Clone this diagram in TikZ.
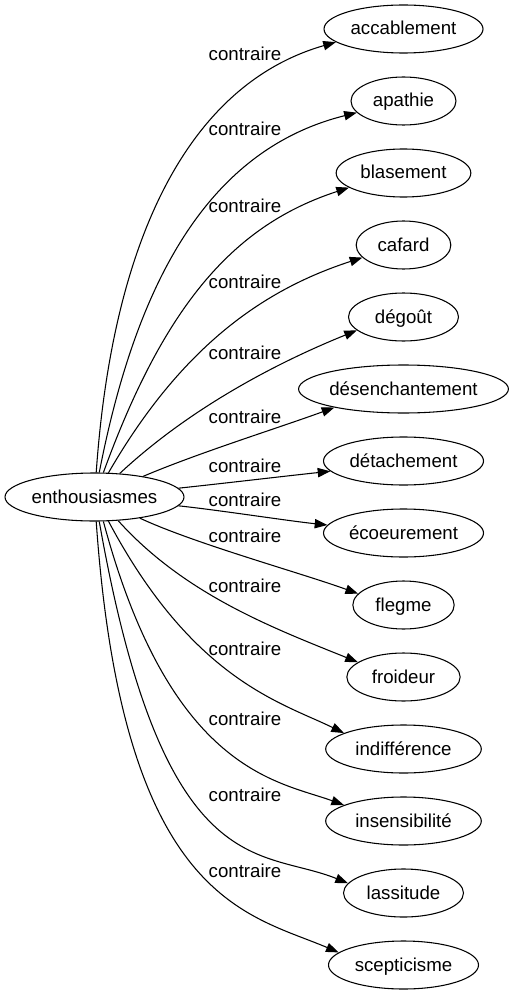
\documentclass[tikz,border=0pt]{standalone}
\usepackage{fontspec}
\setmainfont{Liberation Sans}
\usetikzlibrary{arrows.meta,shapes.geometric}
\begin{document}
\begin{tikzpicture}[x=0.75pt,y=0.75pt,
  every node/.style={font=\fontsize{14pt}{16pt}\selectfont},
  term/.style={ellipse,draw,line width=0.8pt,inner sep=0pt,minimum height=36pt,text height=11pt,text depth=2pt},
  lbl/.style={inner sep=0pt,anchor=base},
  rel/.style={line width=0.8pt,-{Triangle[length=9.5pt,width=7pt]}}]
\useasboundingbox (0,0) rectangle (513,-995);
\node[term,minimum width=134.25pt] (src) at (94.5,-497) {enthousiasmes};
\node[term,minimum width=119.25pt] (acc) at (403.5,-29) {accablement};
\node[term,minimum width=78.75pt] (apa) at (403.5,-101) {apathie};
\node[term,minimum width=101pt] (bla) at (403.5,-173) {blasement};
\node[term,minimum width=71pt] (caf) at (403.5,-245) {cafard};
\node[term,minimum width=82.5pt] (deg) at (403.5,-317) {dégoût};
\node[term,minimum width=155.25pt] (des) at (403.5,-389) {désenchantement};
\node[term,minimum width=120pt] (det) at (403.5,-461) {détachement};
\node[term,minimum width=120pt] (eco) at (403.5,-533) {écoeurement};
\node[term,minimum width=76pt] (fle) at (403.5,-605) {flegme};
\node[term,minimum width=85pt] (fro) at (403.5,-677) {froideur};
\node[term,minimum width=116.7pt] (ind) at (403.5,-749) {indifférence};
\node[term,minimum width=116.7pt] (ins) at (403.5,-821) {insensibilité};
\node[term,minimum width=90pt] (las) at (403.5,-893) {lassitude};
\node[term,minimum width=112.5pt] (sce) at (403.5,-965) {scepticisme};

\node[lbl] (l1) at (245,-61) {contraire};
\node[lbl] (l2) at (245,-136) {contraire};
\node[lbl] (l3) at (245,-212) {contraire};
\node[lbl] (l4) at (245,-288) {contraire};
\node[lbl] (l5) at (245,-359) {contraire};
\node[lbl] (l6) at (245,-423) {contraire};
\node[lbl] (l7) at (245,-472) {contraire};
\node[lbl] (l8) at (245,-506) {contraire};
\node[lbl] (l9) at (245,-542) {contraire};
\node[lbl] (l10) at (245,-592) {contraire};
\node[lbl] (l11) at (245,-655) {contraire};
\node[lbl] (l12) at (245,-725) {contraire};
\node[lbl] (l13) at (245,-801) {contraire};
\node[lbl] (l14) at (245,-877) {contraire};

\draw[rel] (src.86) .. controls +(86:240) and +(196:150) .. (acc.191);
\draw[rel] (src.79) .. controls +(79:200) and +(194:150) .. (apa.194);
\draw[rel] (src.70) .. controls +(70:180) and +(198:120) .. (bla.195);
\draw[rel] (src.60) .. controls +(60:150) and +(198:100) .. (caf.197);
\draw[rel] (src.43) .. controls +(43:100) and +(202:80) .. (deg.196);
\draw[rel] (src.23) .. controls +(23:60) and +(200:60) .. (des.195);
\draw[rel] (src.6) .. controls +(6:40) and +(186:40) .. (det.188);
\draw[rel] (src.-6) .. controls +(-6:40) and +(174:40) .. (eco.174);
\draw[rel] (src.-25) .. controls +(-25:60) and +(160:60) .. (fle.166);
\draw[rel] (src.-45) .. controls +(-48:100) and +(158:90) .. (fro.162);
\draw[rel] (src.-60) .. controls +(-62:180) and +(154:70) .. (ind.165);
\draw[rel] (src.-70) .. controls +(-75:260) and +(160:70) .. (ins.165);
\draw[rel] (src.-79) .. controls +(-80:370) and +(158:95) .. (las.170);
\draw[rel] (src.-86) .. controls +(-86:380) and +(157:100) .. (sce.169);
\end{tikzpicture}
\end{document}
